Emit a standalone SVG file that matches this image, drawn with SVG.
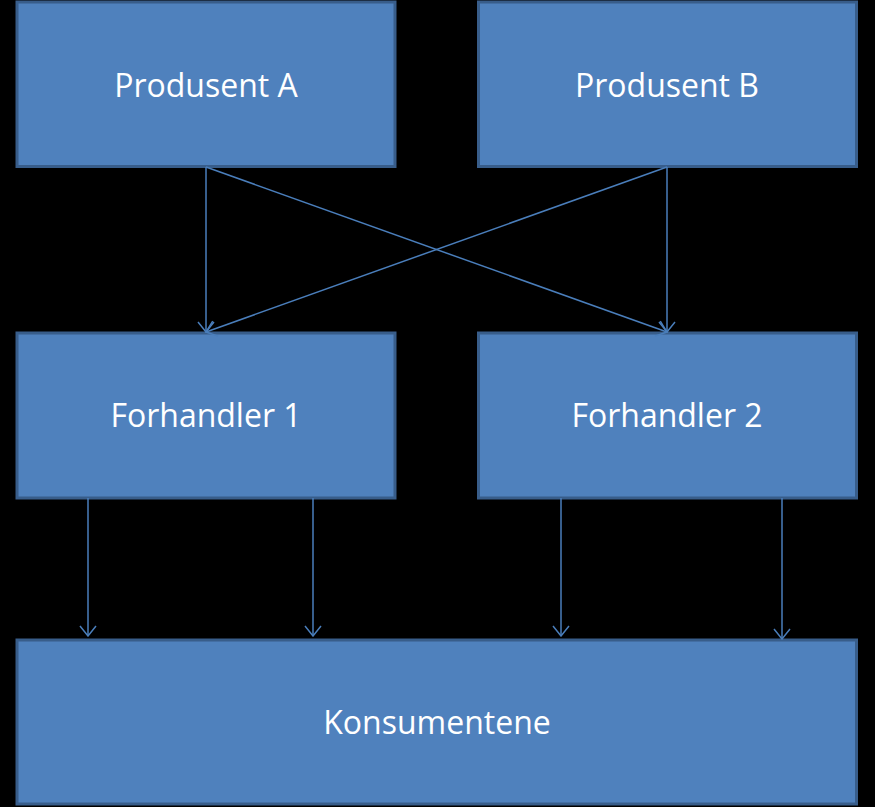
<svg xmlns="http://www.w3.org/2000/svg" width="875" height="807" viewBox="0 0 875 807">
<style>
.box{fill:#4f81bd;stroke:#385d8a;stroke-width:3}
.lbl{fill:#ffffff;font-family:"Open Sans","Liberation Sans",sans-serif;font-size:32px;text-anchor:middle}
.con{stroke:#4a7ebb;stroke-width:1.5;fill:none}
</style>
<defs>
<marker id="arr" viewBox="0 0 12 18" refX="11" refY="9" markerWidth="12" markerHeight="18" markerUnits="userSpaceOnUse" orient="auto">
<path d="M1,1 L11,9 L1,17" fill="none" stroke="#4a7ebb" stroke-width="1.5"/>
</marker>
</defs>
<rect width="875" height="807" fill="#000"/>
<g id="produsentA"><rect class="box" x="17" y="2" width="378" height="164.5"/><text class="lbl" x="206" y="97">Produsent A</text></g>
<g id="produsentB"><rect class="box" x="478.5" y="2" width="378" height="164.5"/><text class="lbl" x="667" y="97">Produsent B</text></g>
<g id="forhandler1"><rect class="box" x="17" y="333" width="378" height="165"/><text class="lbl" x="206" y="427">Forhandler 1</text></g>
<g id="forhandler2"><rect class="box" x="478.5" y="333" width="378" height="165"/><text class="lbl" x="667" y="427">Forhandler 2</text></g>
<g id="konsumentene"><rect class="box" x="17" y="640" width="839.5" height="164"/><text class="lbl" x="437" y="734">Konsumentene</text></g>
<g id="connectors">
<line class="con" x1="206" y1="167" x2="206" y2="332" marker-end="url(#arr)"/>
<line class="con" x1="206" y1="167" x2="667" y2="332" marker-end="url(#arr)"/>
<line class="con" x1="667" y1="167" x2="667" y2="332" marker-end="url(#arr)"/>
<line class="con" x1="667" y1="167" x2="206" y2="332" marker-end="url(#arr)"/>
<line class="con" x1="88" y1="498" x2="88" y2="636" marker-end="url(#arr)"/>
<line class="con" x1="313" y1="498" x2="313" y2="636" marker-end="url(#arr)"/>
<line class="con" x1="561" y1="498" x2="561" y2="636" marker-end="url(#arr)"/>
<line class="con" x1="782" y1="498" x2="782" y2="639" marker-end="url(#arr)"/>
</g>
</svg>
